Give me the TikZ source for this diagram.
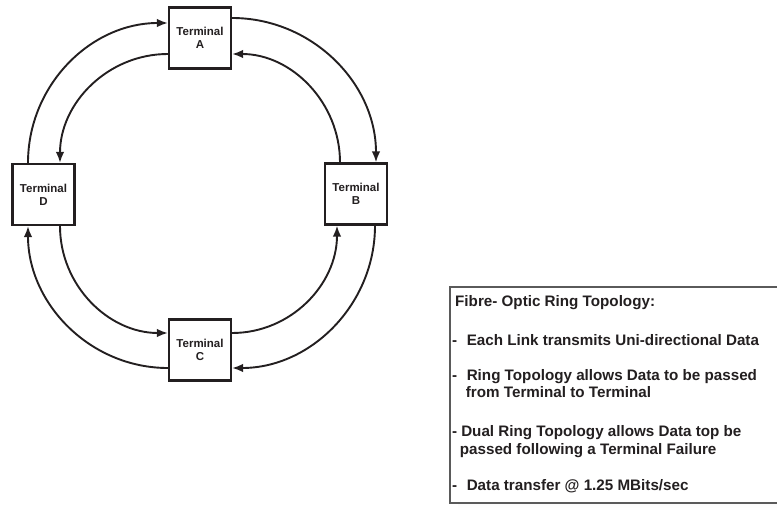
\documentclass[tikz,border=0pt]{standalone}
\usepackage{fontspec}
\setmainfont{Liberation Sans}
\usetikzlibrary{arrows.meta}
\definecolor{ink}{HTML}{231F20}
\definecolor{frame}{HTML}{5A5A5A}
\definecolor{shade}{HTML}{CBCBCB}
\begin{document}
\begin{tikzpicture}[x=1pt,y=-1pt,
  terminal/.style={draw=ink, line width=2.2pt, fill=white, minimum width=62pt,
    minimum height=61pt, inner sep=0pt, align=center,
    font=\bfseries\fontsize{11.5}{13}\selectfont, text=ink},
  link/.style={draw=ink, line width=1.9pt, -{Latex[length=11pt,width=8.5pt]}},
  note/.style={anchor=base west, inner sep=0pt,
    font=\bfseries\fontsize{15.2}{17}\selectfont, text=ink}]
\useasboundingbox (0,0) rectangle (777,511);

% terminals of the ring
\node[terminal] (A) at (200,38)    {Terminal\\A};
\node[terminal] (B) at (356,194)   {Terminal\\B};
\node[terminal] (C) at (200,350)   {Terminal\\C};
\node[terminal] (D) at (43.5,194.5) {Terminal\\D};

% outer ring, clockwise
\draw[link] ([xshift=-15.5pt]D.north) to[out=90,in=180] ([yshift=15pt]A.west);
\draw[link] ([yshift=20pt]A.east) to[out=0,in=90] ([xshift=20pt]B.north);
\draw[link] ([xshift=19pt]B.south) to[out=-90,in=0] ([yshift=-18pt]C.east);
\draw[link] ([yshift=-18pt]C.west) to[out=180,in=-90] ([xshift=-15.5pt]D.south);

% inner ring, anticlockwise
\draw[link] ([yshift=-16pt]A.west) to[out=180,in=90] ([xshift=16.5pt]D.north);
\draw[link] ([xshift=16.5pt]D.south) to[out=-90,in=180] ([yshift=17pt]C.west);
\draw[link] ([yshift=17pt]C.east) to[out=0,in=-90] ([xshift=-19pt]B.south);
\draw[link] ([xshift=-16pt]B.north) to[out=90,in=0] ([yshift=-16pt]A.east);

% notes panel with drop shadow
\fill[shade] (458,294) rectangle (800,510);
\draw[frame, fill=white, line width=1.2pt] (450,287) rectangle (795,503);

\node[note] (t0) at (455,306) {Fibre- Optic Ring Topology:};
\node[note] (t1) at (452,345) {-\hspace{9.5pt}Each Link transmits Uni-directional Data};
\node[note] (t2) at (452,380) {-\hspace{9.5pt}Ring Topology allows Data to be passed};
\node[note] (t3) at (465.7,397) {from Terminal to Terminal};
\node[note] (t4) at (452,436) {-\hspace{4pt}Dual Ring Topology allows Data top be};
\node[note] (t5) at (459.7,454) {passed following a Terminal Failure};
\node[note] (t6) at (452,490) {-\hspace{9.5pt}Data transfer @ 1.25 MBits/sec};
\end{tikzpicture}
\end{document}
